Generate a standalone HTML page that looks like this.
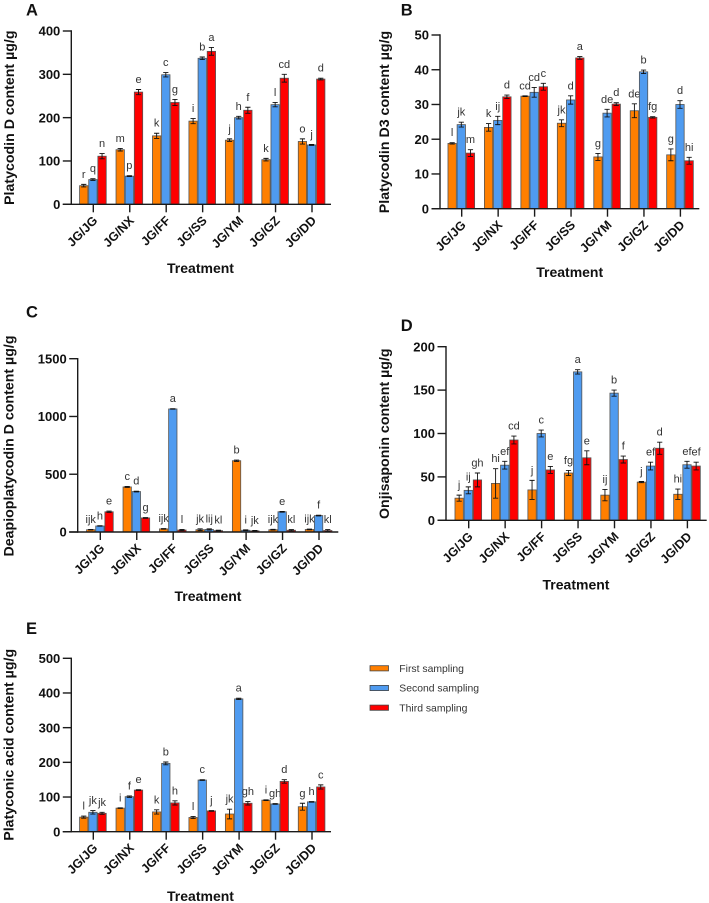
<!DOCTYPE html>
<html lang="en">
<head>
<meta charset="utf-8">
<title>Saponin content by treatment</title>
<style>
  html, body { margin: 0; padding: 0; background: #fff; }
  #figure { display: block; width: 709px; height: 903px; filter: blur(0.35px); font-family: "Liberation Sans", sans-serif; }
</style>
</head>
<body>
<svg id="figure" xmlns="http://www.w3.org/2000/svg" width="709" height="903" viewBox="0 0 709 903"></svg>
<script>
const categories = ['JG/JG', 'JG/NX', 'JG/FF', 'JG/SS', 'JG/YM', 'JG/GZ', 'JG/DD'];
const seriesNames = ['First sampling', 'Second sampling', 'Third sampling'];

const aTicks = [0, 100, 200, 300, 400];
const aFirst = [43, 126, 158, 192, 148, 103, 145];
const aSecond = [57, 65, 299, 337, 200, 230, 137];
const aThird = [111, 259, 235, 353, 217, 291, 289];
const aFirstErr = [3, 3, 6, 6, 3, 3, 6];
const aSecondErr = [2, 1, 5, 3, 3, 5, 1];
const aThirdErr = [6, 6, 7, 9, 7, 9, 2];
const aFirstLetters = ['r', 'm', 'k', 'i', 'j', 'k', 'o'];
const aSecondLetters = ['q', 'p', 'c', 'b', 'h', 'l', 'j'];
const aThirdLetters = ['n', 'e', 'g', 'a', 'f', 'cd', 'd'];

const bTicks = [0, 10, 20, 30, 40, 50];
const bFirst = [18.8, 23.4, 32.4, 24.6, 14.9, 28.2, 15.5];
const bSecond = [24.2, 25.4, 33.5, 31.3, 27.5, 39.4, 30];
const bThird = [16, 32.2, 35.1, 43.4, 30.1, 26.3, 13.8];
const bFirstErr = [0.2, 1.1, 0.1, 1, 1, 2, 1.7];
const bSecondErr = [0.7, 1.2, 1.4, 1.2, 1.1, 0.5, 1.1];
const bThirdErr = [1, 0.5, 1, 0.4, 0.4, 0.2, 1];
const bFirstLetters = ['l', 'k', 'cd', 'jk', 'g', 'de', 'g'];
const bSecondLetters = ['jk', 'ij', 'cd', 'd', 'de', 'b', 'd'];
const bThirdLetters = ['m', 'd', 'c', 'a', 'd', 'fg', 'hi'];

const cTicks = [0, 500, 1000, 1500];
const cFirst = [20, 390, 27, 20, 617, 20, 22];
const cSecond = [52, 350, 1065, 22, 15, 175, 142];
const cThird = [175, 122, 17, 12, 10, 15, 13];
const cFirstErr = [2, 4, 3, 8, 6, 3, 3];
const cSecondErr = [2, 3, 2, 5, 4, 3, 3];
const cThirdErr = [6, 3, 5, 4, 3, 6, 8];
const cFirstLetters = ['ijk', 'c', 'ijk', 'jk', 'b', 'ijk', 'ijk'];
const cSecondLetters = ['h', 'd', 'a', 'lij', 'i', 'e', 'f'];
const cThirdLetters = ['e', 'g', 'l', 'kl', 'jk', 'kl', 'kl'];

const dTicks = [0, 50, 100, 150, 200];
const dFirst = [25.5, 42.5, 35, 54.5, 29, 44, 30];
const dSecond = [34.5, 63.5, 100, 171, 146.5, 62.5, 64];
const dThird = [46.5, 92.5, 58, 72, 70, 83, 62.5];
const dFirstErr = [3.5, 17, 11, 3, 6.5, 0.7, 6];
const dSecondErr = [4, 4.5, 4, 2.5, 3.5, 4.5, 4];
const dThirdErr = [8, 4.5, 4, 8, 4, 7, 4.5];
const dFirstLetters = ['j', 'hi', 'j', 'fg', 'ij', 'j', 'hi'];
const dSecondLetters = ['ij', 'ef', 'c', 'a', 'b', 'ef', 'ef'];
const dThirdLetters = ['gh', 'cd', 'e', 'e', 'f', 'd', 'ef'];

const eTicks = [0, 100, 200, 300, 400, 500];
const eFirst = [42, 68, 57, 41, 51, 91, 72];
const eSecond = [56, 101, 197, 149, 383, 80, 86];
const eThird = [53, 120, 83, 60, 82, 145, 129];
const eFirstErr = [3, 1, 6, 3, 14, 1, 10];
const eSecondErr = [5, 2, 4, 1, 2, 1, 1];
const eThirdErr = [3, 1, 6, 1, 5, 5, 6];
const eFirstLetters = ['l', 'i', 'k', 'l', 'jk', 'i', 'g'];
const eSecondLetters = ['jk', 'f', 'b', 'c', 'a', 'gh', 'h'];
const eThirdLetters = ['jk', 'e', 'h', 'j', 'gh', 'd', 'c'];

const seriesColors = ['#ff7f00', '#4f9bf0', '#ff0000'];
const svgNS = 'http://www.w3.org/2000/svg';
const figure = document.getElementById('figure');

function make(parent, tag, attrs, text) {
  const el = document.createElementNS(svgNS, tag);
  for (const k in attrs) el.setAttribute(k, attrs[k]);
  if (text !== undefined) el.textContent = text;
  parent.appendChild(el);
  return el;
}

function drawPanel(p) {
  const group = make(figure, 'g', {});
  
  

  const yMax = p.ticks[p.ticks.length - 1];
  const yScale = v => p.y0 - (v / yMax) * (p.y0 - p.yTop);
  const xScale = i => p.xFirst + i * 36.45;
  const barW = 9.15;

  const panelLabel = make(group, 'text', { x: p.labelX, y: p.labelY, 'font-size': 16.5, 'font-weight': 'bold', fill: '#111' }, p.id);
  
  

  p.series.forEach((vals, s) => {
    vals.forEach((v, i) => {
      const cx = xScale(i) + (s - 1) * barW - 0.4;
      const bar = make(group, 'rect', {
        x: cx - barW / 2 + 0.4, y: yScale(v), width: barW - 0.8, height: p.y0 - yScale(v),
        fill: seriesColors[s], stroke: '#555', 'stroke-width': 0.8
      });
      
      

      const e = p.errors[s][i];
      const hi = yScale(v + e), lo = yScale(Math.max(v - e, 0));
      const whisker = make(group, 'path', {
        d: 'M' + (cx - 2.6) + ' ' + hi + 'H' + (cx + 2.6) + 'M' + cx + ' ' + hi + 'V' + lo + 'M' + (cx - 2.6) + ' ' + lo + 'H' + (cx + 2.6),
        stroke: '#111', 'stroke-width': 0.9, fill: 'none'
      });
      
      

      const letter = make(group, 'text', {
        x: cx, y: hi - 6.5, 'text-anchor': 'middle', 'font-size': 11, fill: '#333'
      }, p.letters[s][i]);
      
      
    });
  });

  const yAxis = make(group, 'line', { x1: p.xAxis, x2: p.xAxis, y1: p.yTop - 0.7, y2: p.y0 + 0.7, stroke: '#1a1a1a', 'stroke-width': 1.4 });
  
  

  const xAxis = make(group, 'line', { x1: p.xAxis - 8.5, x2: p.xEnd, y1: p.y0, y2: p.y0, stroke: '#1a1a1a', 'stroke-width': 1.4 });
  
  

  p.ticks.forEach(t => {
    const tick = make(group, 'line', { x1: p.xAxis - 8.5, x2: p.xAxis, y1: yScale(t), y2: yScale(t), stroke: '#1a1a1a', 'stroke-width': 1.4 });
    
    
    const tickLabel = make(group, 'text', {
      x: p.xAxis - 11, y: yScale(t) + 4.6, 'text-anchor': 'end', 'font-size': 13, 'font-weight': 'bold', fill: '#111'
    }, t);
    
    
  });

  categories.forEach((c, i) => {
    const x = xScale(i);
    const tick = make(group, 'line', { x1: x, x2: x, y1: p.y0, y2: p.y0 + 8, stroke: '#1a1a1a', 'stroke-width': 1.4 });
    
    
    const lx = x + 5, ly = p.y0 + 17;
    const catLabel = make(group, 'text', {
      x: lx, y: ly, 'text-anchor': 'end', 'font-size': 12.5, 'font-weight': 'bold', fill: '#111',
      transform: 'rotate(-45 ' + lx + ' ' + ly + ')'
    }, c);
    
    
  });

  const yTitle = make(group, 'text', {
    x: p.yTitleX, y: p.yTitleY, 'text-anchor': 'middle', 'font-size': 14.2, 'font-weight': 'bold', fill: '#111',
    transform: 'rotate(-90 ' + p.yTitleX + ' ' + p.yTitleY + ')'
  }, p.yTitle);
  
  

  const xTitle = make(group, 'text', {
    x: p.xTitleX, y: p.xTitleY, 'text-anchor': 'middle', 'font-size': 14, 'font-weight': 'bold', fill: '#111'
  }, 'Treatment');
  
  
}

drawPanel({ id: 'A', labelX: 26, labelY: 15.7, xAxis: 71.3, xEnd: 331, xFirst: 93.3, y0: 204.3, yTop: 31, ticks: aTicks,
  series: [aFirst, aSecond, aThird], errors: [aFirstErr, aSecondErr, aThirdErr], letters: [aFirstLetters, aSecondLetters, aThirdLetters],
  yTitle: 'Platycodin D content µg/g', yTitleX: 14, yTitleY: 117.7, xTitleX: 200.5, xTitleY: 273 });
drawPanel({ id: 'B', labelX: 400.7, labelY: 15.7, xAxis: 440, xEnd: 699.3, xFirst: 461.7, y0: 208.7, yTop: 35, ticks: bTicks,
  series: [bFirst, bSecond, bThird], errors: [bFirstErr, bSecondErr, bThirdErr], letters: [bFirstLetters, bSecondLetters, bThirdLetters],
  yTitle: 'Platycodin D3 content µg/g', yTitleX: 389, yTitleY: 122, xTitleX: 569.7, xTitleY: 277 });
drawPanel({ id: 'C', labelX: 26, labelY: 317.7, xAxis: 77.7, xEnd: 338.3, xFirst: 100.3, y0: 532, yTop: 358.7, ticks: cTicks,
  series: [cFirst, cSecond, cThird], errors: [cFirstErr, cSecondErr, cThirdErr], letters: [cFirstLetters, cSecondLetters, cThirdLetters],
  yTitle: 'Deapioplatycodin D content µg/g', yTitleX: 13.5, yTitleY: 446, xTitleX: 208, xTitleY: 601 });
drawPanel({ id: 'D', labelX: 400.7, labelY: 331, xAxis: 446, xEnd: 706.7, xFirst: 468.7, y0: 520.3, yTop: 346.7, ticks: dTicks,
  series: [dFirst, dSecond, dThird], errors: [dFirstErr, dSecondErr, dThirdErr], letters: [dFirstLetters, dSecondLetters, dThirdLetters],
  yTitle: 'Onjisaponin content µg/g', yTitleX: 389, yTitleY: 433.7, xTitleX: 576, xTitleY: 589.3 });
drawPanel({ id: 'E', labelX: 26, labelY: 634, xAxis: 71.3, xEnd: 331, xFirst: 93.3, y0: 831.7, yTop: 658.3, ticks: eTicks,
  series: [eFirst, eSecond, eThird], errors: [eFirstErr, eSecondErr, eThirdErr], letters: [eFirstLetters, eSecondLetters, eThirdLetters],
  yTitle: 'Platyconic acid content µg/g', yTitleX: 13.5, yTitleY: 744.8, xTitleX: 200.5, xTitleY: 901 });

const legend = make(figure, 'g', {});


seriesNames.forEach((name, s) => {
  const rowY = 665.7 + s * 19.7;
  const swatch = make(legend, 'rect', { x: 370, y: rowY, width: 18.5, height: 5.2, fill: seriesColors[s], stroke: '#444', 'stroke-width': 0.8 });
  
  
  const entry = make(legend, 'text', { x: 399.3, y: rowY + 6.3, 'font-size': 10.4, fill: '#333' }, name);
  
  
});
</script>
</body>
</html>
